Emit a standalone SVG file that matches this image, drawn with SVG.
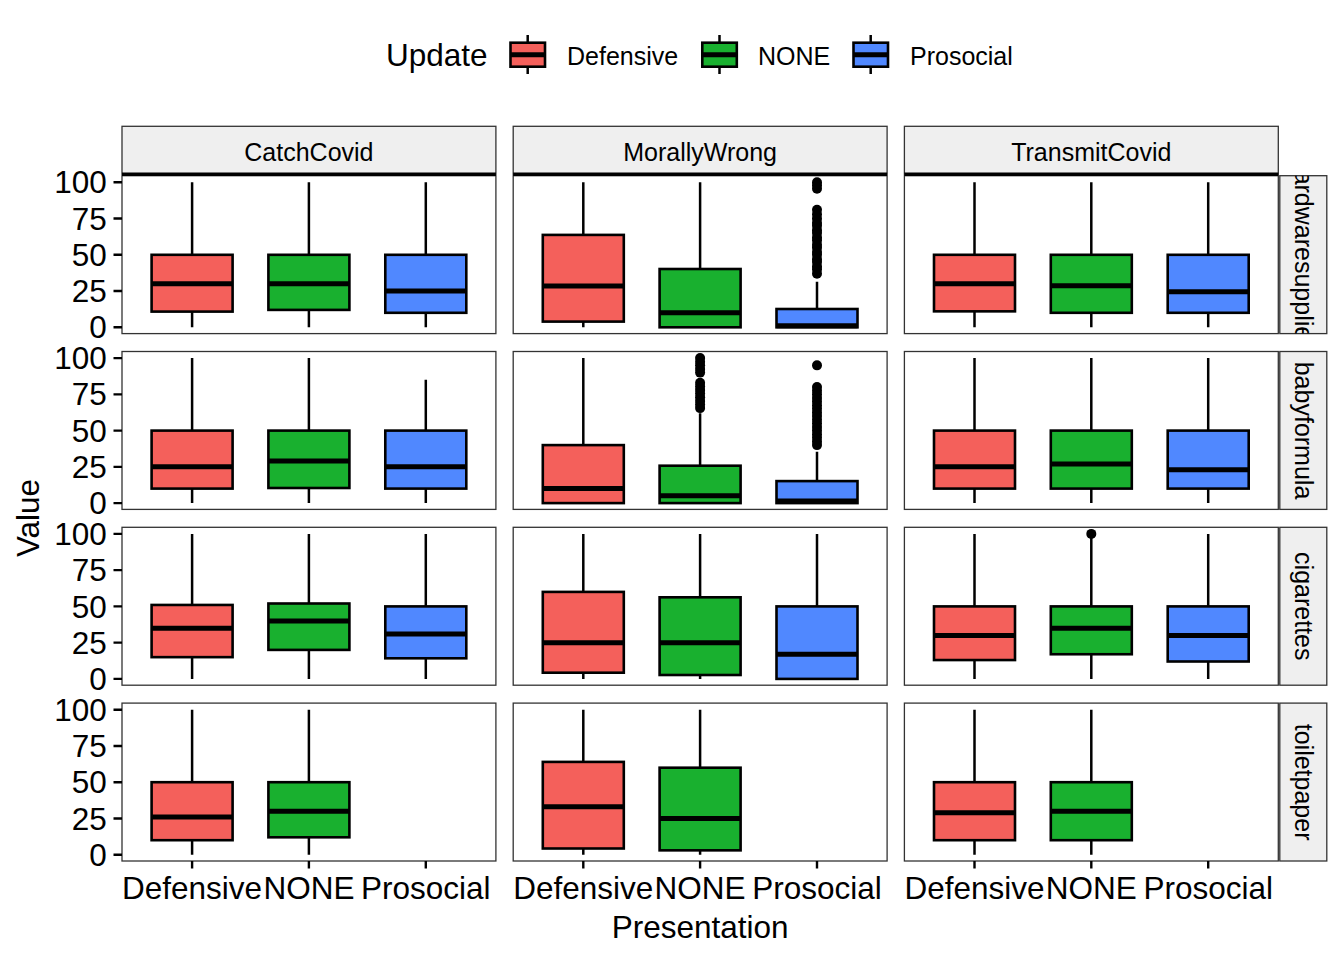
<svg xmlns="http://www.w3.org/2000/svg" width="1344" height="960" viewBox="0 0 1344 960">
<defs>
<style>
text{font-family:"Liberation Sans",Arial,Helvetica,sans-serif;fill:#000}
.ax{font-size:31.5px}
.st{font-size:25px}
.pn{fill:#fff;stroke:#333;stroke-width:1.3}
.sp{fill:#efefef;stroke:#333;stroke-width:1.3}
.wh{stroke:#000;stroke-width:2.5;fill:none}
.bx{stroke:#000;stroke-width:2.6}
.md{stroke:#000;stroke-width:5}
.tk{stroke:#000;stroke-width:2.4}
.d{fill:#f4605b}
.n{fill:#19b02f}
.p{fill:#5088ff}
.pt{fill:#000}
</style>
<clipPath id="c0"><rect x="1279.8" y="175.7" width="47" height="157.9"/></clipPath>
</defs>
<rect width="1344" height="960" fill="#fff"/>

<g id="legend">
<text class="ax" x="386" y="66">Update</text>
<line class="wh" x1="527.7" y1="35" x2="527.7" y2="74"/>
<rect class="bx d" x="510.5" y="42.7" width="34.5" height="24"/>
<line class="md" x1="510.5" y1="54.7" x2="545" y2="54.7"/>
<text class="st" x="567" y="65">Defensive</text>
<line class="wh" x1="719.5" y1="35" x2="719.5" y2="74"/>
<rect class="bx n" x="702.3" y="42.7" width="34.5" height="24"/>
<line class="md" x1="702.3" y1="54.7" x2="736.8" y2="54.7"/>
<text class="st" x="758" y="65">NONE</text>
<line class="wh" x1="870.7" y1="35" x2="870.7" y2="74"/>
<rect class="bx p" x="853.5" y="42.7" width="34.5" height="24"/>
<line class="md" x1="853.5" y1="54.7" x2="888" y2="54.7"/>
<text class="st" x="910" y="65">Prosocial</text>
</g>

<g id="strips-top">
<rect class="sp" x="122" y="126.3" width="373.9" height="48"/>
<rect class="sp" x="513.2" y="126.3" width="373.9" height="48"/>
<rect class="sp" x="904.4" y="126.3" width="373.9" height="48"/>
<text class="st" x="308.9" y="160.5" text-anchor="middle">CatchCovid</text>
<text class="st" x="700.1" y="160.5" text-anchor="middle">MorallyWrong</text>
<text class="st" x="1091.3" y="160.5" text-anchor="middle">TransmitCovid</text>
</g>

<g id="strips-right">
<rect class="sp" x="1279.8" y="175.7" width="47" height="157.9"/>
<rect class="sp" x="1279.8" y="351.5" width="47" height="157.9"/>
<rect class="sp" x="1279.8" y="527.3" width="47" height="157.9"/>
<rect class="sp" x="1279.8" y="703.1" width="47" height="157.9"/>
<g clip-path="url(#c0)"><text class="st" transform="translate(1294.5,254.7) rotate(90)" text-anchor="middle">hardwaresupplies</text></g>
<text class="st" transform="translate(1294.5,430.5) rotate(90)" text-anchor="middle">babyformula</text>
<text class="st" transform="translate(1294.5,606.3) rotate(90)" text-anchor="middle">cigarettes</text>
<text class="st" transform="translate(1294.5,782.1) rotate(90)" text-anchor="middle">toiletpaper</text>
</g>

<!-- Row 0: hardwaresupplies -->
<g id="panel-CatchCovid-hardwaresupplies">
<rect class="pn" x="122" y="175.7" width="373.9" height="157.9"/>
<path class="wh" d="M192.1 182.3V327.3M308.9 182.3V327.3M425.8 182.3V327.3"/>
<rect class="bx d" x="151.6" y="254.8" width="81" height="56.8"/>
<rect class="bx n" x="268.4" y="254.8" width="81" height="55.1"/>
<rect class="bx p" x="385.3" y="254.8" width="81" height="58"/>
<path class="md" d="M151.6 283.8h81M268.4 283.8h81M385.3 291.05h81"/>
</g>
<g id="panel-MorallyWrong-hardwaresupplies">
<rect class="pn" x="513.2" y="175.7" width="373.9" height="157.9"/>
<path class="wh" d="M583.3 182.3V327.3M700.1 182.3V327.3M817 281.8V327.3"/>
<rect class="bx d" x="542.8" y="234.9" width="81" height="86.7"/>
<rect class="bx n" x="659.6" y="269" width="81" height="58.3"/>
<rect class="bx p" x="776.5" y="309" width="81" height="18.3"/>
<path class="md" d="M542.8 286h81M659.6 312.8h81M776.5 325.85h81"/>
<g class="pt">
<circle cx="817" cy="182.3" r="5"/><circle cx="817" cy="185.2" r="5"/><circle cx="817" cy="188.8" r="5"/>
<circle cx="817" cy="209.85" r="5"/><circle cx="817" cy="214.2" r="5"/><circle cx="817" cy="218.55" r="5"/>
<circle cx="817" cy="222.9" r="5"/><circle cx="817" cy="225.8" r="5"/><circle cx="817" cy="230.15" r="5"/>
<circle cx="817" cy="233.05" r="5"/><circle cx="817" cy="237.4" r="5"/><circle cx="817" cy="240.3" r="5"/>
<circle cx="817" cy="244.65" r="5"/><circle cx="817" cy="247.55" r="5"/><circle cx="817" cy="251.9" r="5"/>
<circle cx="817" cy="254.8" r="5"/><circle cx="817" cy="259.15" r="5"/><circle cx="817" cy="262.05" r="5"/>
<circle cx="817" cy="266.4" r="5"/><circle cx="817" cy="269.3" r="5"/><circle cx="817" cy="273.65" r="5"/>
</g>
</g>
<g id="panel-TransmitCovid-hardwaresupplies">
<rect class="pn" x="904.4" y="175.7" width="373.9" height="157.9"/>
<path class="wh" d="M974.5 182.3V327.3M1091.3 182.3V327.3M1208.2 182.3V327.3"/>
<rect class="bx d" x="934" y="254.8" width="81" height="56.55"/>
<rect class="bx n" x="1050.8" y="254.8" width="81" height="58"/>
<rect class="bx p" x="1167.7" y="254.8" width="81" height="58"/>
<path class="md" d="M934 283.8h81M1050.8 285.7h81M1167.7 291.8h81"/>
</g>

<!-- Row 1: babyformula -->
<g id="panel-CatchCovid-babyformula">
<rect class="pn" x="122" y="351.5" width="373.9" height="157.9"/>
<path class="wh" d="M192.1 358.1V503.1M308.9 358.1V503.1M425.8 379.85V503.1"/>
<rect class="bx d" x="151.6" y="430.6" width="81" height="58"/>
<rect class="bx n" x="268.4" y="430.6" width="81" height="57.4"/>
<rect class="bx p" x="385.3" y="430.6" width="81" height="58"/>
<path class="md" d="M151.6 466.85h81M268.4 461.05h81M385.3 466.85h81"/>
</g>
<g id="panel-MorallyWrong-babyformula">
<rect class="pn" x="513.2" y="351.5" width="373.9" height="157.9"/>
<path class="wh" d="M583.3 358.1V503.1M700.1 413.2V503.1M817 451.8V503.1"/>
<rect class="bx d" x="542.8" y="445.1" width="81" height="58"/>
<rect class="bx n" x="659.6" y="465.7" width="81" height="37.4"/>
<rect class="bx p" x="776.5" y="481.1" width="81" height="22"/>
<path class="md" d="M542.8 488.6h81M659.6 495.85h81M776.5 500.9h81"/>
<g class="pt">
<circle cx="700.1" cy="358.1" r="5"/><circle cx="700.1" cy="361.7" r="5"/><circle cx="700.1" cy="365.35" r="5"/>
<circle cx="700.1" cy="368.95" r="5"/><circle cx="700.1" cy="372.6" r="5"/><circle cx="700.1" cy="382.75" r="5"/>
<circle cx="700.1" cy="386.4" r="5"/><circle cx="700.1" cy="390" r="5"/><circle cx="700.1" cy="393.6" r="5"/>
<circle cx="700.1" cy="397.25" r="5"/><circle cx="700.1" cy="400.9" r="5"/><circle cx="700.1" cy="404.5" r="5"/>
<circle cx="700.1" cy="408.1" r="5"/>
<circle cx="817" cy="365.35" r="5"/><circle cx="817" cy="387.1" r="5"/><circle cx="817" cy="390.7" r="5"/>
<circle cx="817" cy="394.35" r="5"/><circle cx="817" cy="397.95" r="5"/><circle cx="817" cy="401.6" r="5"/>
<circle cx="817" cy="405.2" r="5"/><circle cx="817" cy="408.85" r="5"/><circle cx="817" cy="412.45" r="5"/>
<circle cx="817" cy="416.1" r="5"/><circle cx="817" cy="419.7" r="5"/><circle cx="817" cy="423.35" r="5"/>
<circle cx="817" cy="426.95" r="5"/><circle cx="817" cy="430.6" r="5"/><circle cx="817" cy="434.2" r="5"/>
<circle cx="817" cy="437.85" r="5"/><circle cx="817" cy="441.45" r="5"/><circle cx="817" cy="445.1" r="5"/>
</g>
</g>
<g id="panel-TransmitCovid-babyformula">
<rect class="pn" x="904.4" y="351.5" width="373.9" height="157.9"/>
<path class="wh" d="M974.5 358.1V503.1M1091.3 358.1V503.1M1208.2 358.1V503.1"/>
<rect class="bx d" x="934" y="430.6" width="81" height="58"/>
<rect class="bx n" x="1050.8" y="430.6" width="81" height="58"/>
<rect class="bx p" x="1167.7" y="430.6" width="81" height="58"/>
<path class="md" d="M934 466.85h81M1050.8 463.95h81M1167.7 469.75h81"/>
</g>

<!-- Row 2: cigarettes -->
<g id="panel-CatchCovid-cigarettes">
<rect class="pn" x="122" y="527.3" width="373.9" height="157.9"/>
<path class="wh" d="M192.1 533.9V678.9M308.9 533.9V678.9M425.8 533.9V678.9"/>
<rect class="bx d" x="151.6" y="604.95" width="81" height="52.2"/>
<rect class="bx n" x="268.4" y="603.5" width="81" height="46.4"/>
<rect class="bx p" x="385.3" y="606.4" width="81" height="51.9"/>
<path class="md" d="M151.6 628.15h81M268.4 620.9h81M385.3 633.95h81"/>
</g>
<g id="panel-MorallyWrong-cigarettes">
<rect class="pn" x="513.2" y="527.3" width="373.9" height="157.9"/>
<path class="wh" d="M583.3 533.9V678.9M700.1 533.9V678.9M817 533.9V678.9"/>
<rect class="bx d" x="542.8" y="591.9" width="81" height="80.8"/>
<rect class="bx n" x="659.6" y="597.3" width="81" height="77.7"/>
<rect class="bx p" x="776.5" y="606.4" width="81" height="72.5"/>
<path class="md" d="M542.8 642.65h81M659.6 642.65h81M776.5 654.25h81"/>
</g>
<g id="panel-TransmitCovid-cigarettes">
<rect class="pn" x="904.4" y="527.3" width="373.9" height="157.9"/>
<path class="wh" d="M974.5 533.9V678.9M1091.3 537.5V678.9M1208.2 533.9V678.9"/>
<rect class="bx d" x="934" y="606.4" width="81" height="53.65"/>
<rect class="bx n" x="1050.8" y="606.4" width="81" height="47.85"/>
<rect class="bx p" x="1167.7" y="606.4" width="81" height="55.1"/>
<path class="md" d="M934 635.4h81M1050.8 628.15h81M1167.7 635.4h81"/>
<circle class="pt" cx="1091.3" cy="533.9" r="5"/>
</g>

<!-- Row 3: toiletpaper -->
<g id="panel-CatchCovid-toiletpaper">
<rect class="pn" x="122" y="703.1" width="373.9" height="157.9"/>
<path class="wh" d="M192.1 709.7V854.7M308.9 709.7V854.7"/>
<rect class="bx d" x="151.6" y="782.2" width="81" height="58"/>
<rect class="bx n" x="268.4" y="782.2" width="81" height="55.1"/>
<path class="md" d="M151.6 817h81M268.4 811.2h81"/>
</g>
<g id="panel-MorallyWrong-toiletpaper">
<rect class="pn" x="513.2" y="703.1" width="373.9" height="157.9"/>
<path class="wh" d="M583.3 709.7V854.7M700.1 709.7V854.7"/>
<rect class="bx d" x="542.8" y="761.9" width="81" height="86.6"/>
<rect class="bx n" x="659.6" y="767.7" width="81" height="82.65"/>
<path class="md" d="M542.8 806.85h81M659.6 818.45h81"/>
</g>
<g id="panel-TransmitCovid-toiletpaper">
<rect class="pn" x="904.4" y="703.1" width="373.9" height="157.9"/>
<path class="wh" d="M974.5 709.7V854.7M1091.3 709.7V854.7"/>
<rect class="bx d" x="934" y="782.2" width="81" height="58"/>
<rect class="bx n" x="1050.8" y="782.2" width="81" height="58"/>
<path class="md" d="M934 812.65h81M1050.8 811.2h81"/>
</g>

<g id="strip-lines">
<path stroke="#000" stroke-width="3.4" d="M122 174.3h373.9M513.2 174.3h373.9M904.4 174.3h373.9"/>
</g>

<g id="axes">
<path class="tk" d="M113.5 182.3H122M113.5 218.55H122M113.5 254.8H122M113.5 291.05H122M113.5 327.3H122
M113.5 358.1H122M113.5 394.35H122M113.5 430.6H122M113.5 466.85H122M113.5 503.1H122
M113.5 533.9H122M113.5 570.15H122M113.5 606.4H122M113.5 642.65H122M113.5 678.9H122
M113.5 709.7H122M113.5 745.95H122M113.5 782.2H122M113.5 818.45H122M113.5 854.7H122"/>
<path class="tk" d="M192.1 861V868.5M308.9 861V868.5M425.8 861V868.5M583.3 861V868.5M700.1 861V868.5M817 861V868.5M974.5 861V868.5M1091.3 861V868.5M1208.2 861V868.5"/>
<g class="ax" text-anchor="end">
<text x="106.8" y="193.4">100</text><text x="106.8" y="229.65">75</text><text x="106.8" y="265.9">50</text><text x="106.8" y="302.15">25</text><text x="106.8" y="338.4">0</text>
<text x="106.8" y="369.2">100</text><text x="106.8" y="405.45">75</text><text x="106.8" y="441.7">50</text><text x="106.8" y="477.95">25</text><text x="106.8" y="514.2">0</text>
<text x="106.8" y="545">100</text><text x="106.8" y="581.25">75</text><text x="106.8" y="617.5">50</text><text x="106.8" y="653.75">25</text><text x="106.8" y="690">0</text>
<text x="106.8" y="720.8">100</text><text x="106.8" y="757.05">75</text><text x="106.8" y="793.3">50</text><text x="106.8" y="829.55">25</text><text x="106.8" y="865.8">0</text>
</g>
<g class="ax" text-anchor="middle">
<text x="192.1" y="899.3">Defensive</text><text x="308.9" y="899.3">NONE</text><text x="425.8" y="899.3">Prosocial</text>
<text x="583.3" y="899.3">Defensive</text><text x="700.1" y="899.3">NONE</text><text x="817" y="899.3">Prosocial</text>
<text x="974.5" y="899.3">Defensive</text><text x="1091.3" y="899.3">NONE</text><text x="1208.2" y="899.3">Prosocial</text>
<text x="700.1" y="938">Presentation</text>
<text transform="translate(39,518) rotate(-90)">Value</text>
</g>
</g>
</svg>
